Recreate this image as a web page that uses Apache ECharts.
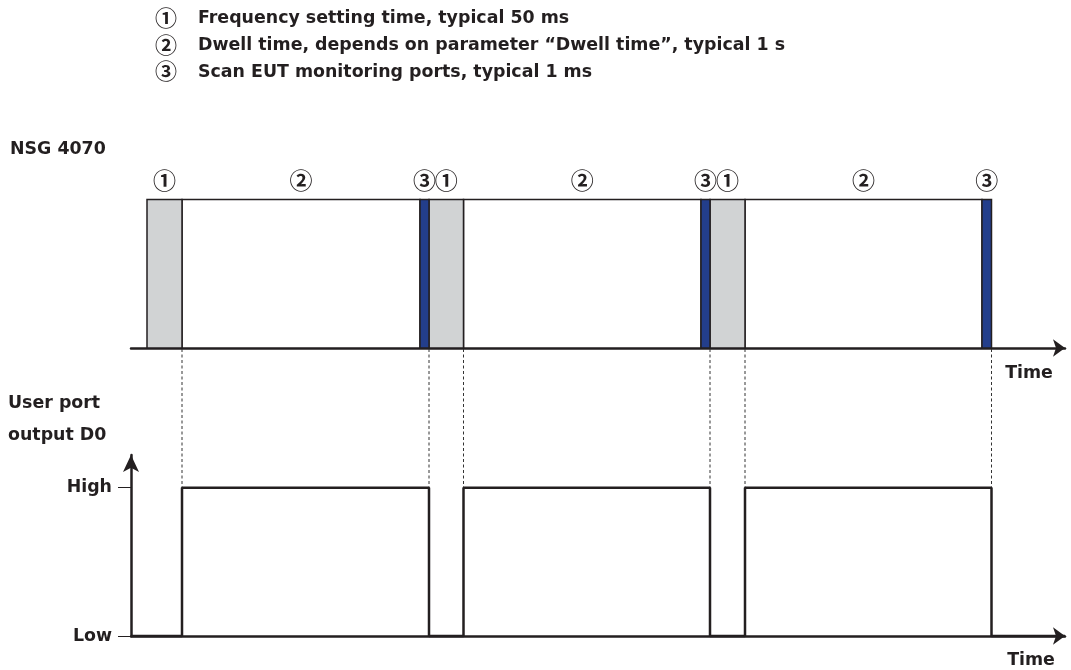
<!DOCTYPE html>
<html><head><meta charset="utf-8">
<script src="https://cdn.jsdelivr.net/npm/echarts@6/dist/echarts.min.js"></script>
<style>html,body{margin:0;padding:0;background:#fff}#c{width:1071px;height:670px}</style>
</head><body><div id="c"></div>
<script>
// ---------------- data ----------------
const legendMarks = ['①', '②', '③'];
const legendTexts = [
  'Frequency setting time, typical 50 ms',
  'Dwell time, depends on parameter “Dwell time”, typical 1 s',
  'Scan EUT monitoring ports, typical 1 ms'
];
// schematic time positions (diagram units along the time axis)
const freqStart  = [16, 298, 579];
const dwellStart = [51, 332.5, 614];
const scanStart  = [289, 570, 851];
const scanEnd    = [298, 579, 860.5];
const timeMax = 934;
const levelNames  = ['Low', 'High'];
const levelValues = [0, 1];
const topTitle = 'NSG 4070';
const bottomTitle = ['User port', 'output D0'];
const axisName = 'Time';

// ---------------- styles / layout ----------------
const INK = '#231f20';
const FILLS = ['#d1d3d4', '#ffffff', '#233e8b'];
const FONT = '"DejaVu Sans", "Noto Sans", sans-serif';
const FS = 17.4;
const CIRC_FONT = '"Noto Sans CJK SC", "DejaVu Sans", sans-serif';
const G_LEFT = 131, G_RIGHT = 6;
const TOP_GRID = { top: 199.5, height: 148.5 };
const TOP_BASE_Y = TOP_GRID.top + TOP_GRID.height;
const BOT_GRID = { top: 455, bottom: 34 };
const LEVEL_MAX = 1.22;

// build segment table: [start, end, kind]
const segments = [];
for (let i = 0; i < freqStart.length; i++) {
  segments.push([freqStart[i], dwellStart[i], 0]);
  segments.push([dwellStart[i], scanStart[i], 1]);
  segments.push([scanStart[i], scanEnd[i], 2]);
}
segments.sort((a, b) => [1, 0, 2].indexOf(a[2]) - [1, 0, 2].indexOf(b[2]));

// D0 signal points
const signal = [[0, levelValues[0]]];
for (let i = 0; i < dwellStart.length; i++) {
  signal.push([dwellStart[i], levelValues[0]], [dwellStart[i], levelValues[1]],
              [scanEnd[i], levelValues[1]], [scanEnd[i], levelValues[0]]);
}
signal.push([timeMax, levelValues[0]]);

const dashX = [];
for (let i = 0; i < dwellStart.length; i++) dashX.push([dwellStart[i]], [scanEnd[i]]);

function renderSeg(params, api) {
  const s = api.value(0), e = api.value(1), k = api.value(2);
  const p0 = api.coord([s, 1]);
  const p1 = api.coord([e, 0]);
  return {
    type: 'group',
    children: [
      { type: 'rect', shape: { x: p0[0], y: p0[1], width: p1[0] - p0[0], height: p1[1] - p0[1] },
        style: { fill: FILLS[k], stroke: INK, lineWidth: 1.5 } },
      { type: 'text', x: (p0[0] + p1[0]) / 2, y: p0[1] - 19,
        style: { text: legendMarks[k], fill: INK, font: 'bold 23px ' + CIRC_FONT,
                 align: 'center', verticalAlign: 'middle' } }
    ]
  };
}

function renderDash(params, api) {
  const p = api.coord([api.value(0), levelValues[1]]);
  return { type: 'line', shape: { x1: p[0], y1: TOP_BASE_Y + 1, x2: p[0], y2: p[1] },
           style: { stroke: '#333', lineWidth: 1, lineDash: [3, 2.5] } };
}

const texts = [];
legendMarks.forEach((m, i) => {
  const y = 18.5 + i * 26.8;
  texts.push({ type: 'text', x: 166, y: y - 1, style: { text: m, fill: INK, font: 'bold 22px ' + CIRC_FONT, align: 'center', verticalAlign: 'middle' } });
  texts.push({ type: 'text', x: 198, y: y, style: { text: legendTexts[i], fill: INK, font: 'bold ' + FS + 'px ' + FONT, verticalAlign: 'middle' } });
});
texts.push({ type: 'text', x: 10, y: 149, style: { text: topTitle, fill: INK, font: 'bold ' + FS + 'px ' + FONT, verticalAlign: 'middle' } });
bottomTitle.forEach((t, i) => texts.push({ type: 'text', x: 8, y: 403 + i * 32, style: { text: t, fill: INK, font: 'bold ' + FS + 'px ' + FONT, verticalAlign: 'middle' } }));
texts.push({ type: 'text', x: 1029, y: 373, style: { text: axisName, fill: INK, font: 'bold ' + FS + 'px ' + FONT, align: 'center', verticalAlign: 'middle' } });
texts.push({ type: 'text', x: 1031, y: 660, style: { text: axisName, fill: INK, font: 'bold ' + FS + 'px ' + FONT, align: 'center', verticalAlign: 'middle' } });

const axisLineArrow = (size) => ({ show: true, symbol: ['none', 'arrow'], symbolSize: size, lineStyle: { color: INK, width: 2.5 } });

const chart = echarts.init(document.getElementById('c'), null, { renderer: 'canvas' });
chart.setOption({
  animation: false,
  backgroundColor: '#fff',
  grid: [
    { left: G_LEFT, right: G_RIGHT, top: TOP_GRID.top, height: TOP_GRID.height, containLabel: false },
    { left: G_LEFT, right: G_RIGHT, top: BOT_GRID.top, bottom: BOT_GRID.bottom, containLabel: false }
  ],
  xAxis: [
    { gridIndex: 0, type: 'value', min: 0, max: timeMax, axisLine: axisLineArrow([13, 12]),
      axisTick: { show: false }, axisLabel: { show: false }, splitLine: { show: false } },
    { gridIndex: 1, type: 'value', min: 0, max: timeMax, axisLine: axisLineArrow([13, 12]),
      axisTick: { show: false }, axisLabel: { show: false }, splitLine: { show: false } }
  ],
  yAxis: [
    { gridIndex: 0, type: 'value', min: 0, max: 1, show: false },
    { gridIndex: 1, type: 'value', min: 0, max: LEVEL_MAX, axisLine: axisLineArrow([12, 17]),
      axisTick: { show: true, customValues: levelValues, length: 13, lineStyle: { color: INK, width: 1 } },
      axisLabel: { show: true, customValues: levelValues, margin: 19, color: INK, fontSize: FS, fontWeight: 'bold', fontFamily: FONT,
                   formatter: v => levelNames[levelValues.indexOf(v)] },
      splitLine: { show: false } }
  ],
  series: [
    { type: 'custom', xAxisIndex: 0, yAxisIndex: 0, data: segments, renderItem: renderSeg, clip: false, z: 3 },
    { type: 'custom', xAxisIndex: 1, yAxisIndex: 1, data: dashX, renderItem: renderDash, clip: false, z: 2 },
    { type: 'line', xAxisIndex: 1, yAxisIndex: 1, data: signal, symbol: 'none', clip: false, z: 4,
      lineStyle: { color: INK, width: 2.5 } }
  ],
  graphic: texts
});
</script></body></html>
